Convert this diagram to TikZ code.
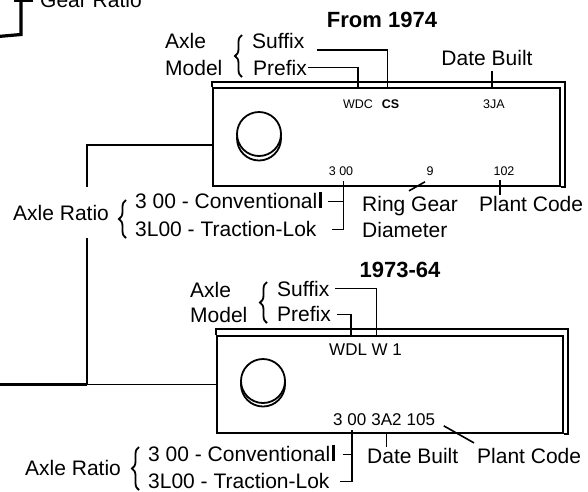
\documentclass[tikz,border=0pt]{standalone}
\usepackage{fontspec}
\setmainfont{Liberation Sans}
\usetikzlibrary{positioning, calc, decorations.pathreplacing}
\tikzset{
  lbl/.style={font=\fontsize{21}{25}\selectfont, inner sep=1pt},
  ttl/.style={font=\fontsize{22}{26}\selectfont\bfseries, inner sep=1pt},
  code/.style={font=\fontsize{12.5}{15}\selectfont, inner sep=0.5pt},
  bigcode/.style={font=\fontsize{17}{20}\selectfont, inner sep=0.5pt},
  plate/.style={rectangle, draw, line width=2pt, inner sep=0pt},
  plateedge/.style={line width=1.6pt},
  hub/.style={line width=1.8pt},
  lead/.style={line width=1.6pt},
  heavy/.style={line width=3.2pt},
  tally/.style={line width=3.5pt},
  curly/.style={decorate, decoration={brace, amplitude=7pt}, line width=1.8pt},
}
\begin{document}
\begin{tikzpicture}[x=1pt, y=-1pt]
  \useasboundingbox (0,0) rectangle (588,491);

  % --- Gear ratio stub (cut off at the top) ---
  \node[lbl, anchor=base west] (gear) at (39,7) {Gear Ratio};
  \draw[heavy] (21,-4) -- (21,34.5) -- (-2,36.5);
  \draw[lead] ($(gear.west)+(-25,1.5)$) -- ($(gear.west)+(-6,1.5)$);

  % --- From 1974 tag ---
  \node[ttl, anchor=base] (t74) at (382,27) {From 1974};
  \node[plate, minimum width=347, minimum height=98] (p74) at (386.5,137) {};
  \draw[plateedge] (p74.north west) -- ++(0,-5) -| ($(p74.south east)+(4,0)$) -- (p74.south east);
  \draw[hub] (259,138.5) circle (22);
  \draw[hub, fill=white] (259,134) circle (22);

  \node[lbl, anchor=base west] (axle74)  at (164,48) {Axle};
  \node[lbl, anchor=base west] (model74) at (164,75) {Model};
  \draw[curly] (242,77) -- (242,35);
  \node[lbl, anchor=base west] (sfx74) at (251,48) {Suffix};
  \node[lbl, anchor=base west] (pfx74) at (252,75) {Prefix};
  \node[lbl, anchor=base] (date74) at (487,65) {Date Built};

  \node[code, anchor=base] (wdc74) at (358,108) {WDC};
  \node[code, anchor=base, font=\fontsize{12.5}{15}\selectfont\bfseries] (cs74) at (390.5,108) {CS};
  \node[code, anchor=base] (ja74) at (494,108) {3JA};
  \node[code, anchor=base] (rc74) at (341,175) {3 00};
  \node[code, anchor=base] (rg74) at (430,175) {9};
  \node[code, anchor=base] (pc74) at (504,175) {102};

  \node[lbl, anchor=base west] (ring74)  at (361,211) {Ring Gear};
  \node[lbl, anchor=base west] (dia74)   at (361,237) {Diameter};
  \node[lbl, anchor=base west] (plant74) at (478,211) {Plant Code};
  \node[lbl, anchor=base west] (ar74)    at (12,220) {Axle Ratio};
  \draw[curly] (126,238) -- (126,200);
  \node[lbl, anchor=base west] (conv74) at (134,208) {3 00 - Conventional};
  \node[lbl, anchor=base west] (trac74) at (134,236) {3L00 - Traction-Lok};

  % leads
  \draw[lead] ($(sfx74.east)+(11,9.6)$) -| ($(cs74.north |- p74.north)+(-3,0)$);
  \draw[lead] (pfx74.east) -| (wdc74.north |- p74.north);
  \draw[lead] ($(date74.south)+(5,5)$) -- ($(date74.south |- p74.north)+(5,0)$);
  \draw[lead] ($(rc74.south)+(2.5,5)$) |- ($(trac74.east)+(14,1)$);
  \draw[tally] ($(conv74.east)+(2,-9)$) -- ($(conv74.east)+(2,7)$);
  \draw[lead] ($(conv74.east)+(9,1)$) -- ($(conv74.east -| rc74.south)+(2.5,1)$);
  \draw[lead] ($(rg74.south)+(-5,6)$) -- ($(rg74.south)+(-21,15)$);
  \draw[lead] ($(pc74.south)+(-4,4)$) -- ($(pc74.south |- plant74.north)+(-4,0)$);

  % --- 1973-64 tag ---
  \node[ttl, anchor=base] (t64) at (400,277) {1973-64};
  \node[plate, minimum width=346, minimum height=97] (p64) at (390,384.5) {};
  \draw[plateedge] (p64.north west) -- ++(0,-6) -| ($(p64.south east)+(4,0)$) -- (p64.south east);
  \draw[hub] (263,384.5) circle (22);
  \draw[hub, fill=white] (263,381) circle (22);

  \node[lbl, anchor=base west] (axle64)  at (189,297) {Axle};
  \node[lbl, anchor=base west] (model64) at (189,322) {Model};
  \draw[curly] (267,323) -- (267,282);
  \node[lbl, anchor=base west] (sfx64) at (276,296) {Suffix};
  \node[lbl, anchor=base west] (pfx64) at (276,321) {Prefix};
  \node[bigcode, anchor=base west] (mc64) at (328.5,355) {WDL W 1};

  \node[bigcode, anchor=base west] (rc64) at (332.5,425) {3 00};
  \node[bigcode, right=3.7pt of rc64.base east, anchor=base west] (dc64) {3A2};
  \node[bigcode, right=3.7pt of dc64.base east, anchor=base west] (pc64) {105};

  \node[lbl, anchor=base west] (date64)  at (366,463) {Date Built};
  \node[lbl, anchor=base west] (plant64) at (476,463) {Plant Code};
  \node[lbl, anchor=base west] (ar64)    at (24,475) {Axle Ratio};
  \draw[curly] (139,490) -- (139,447);
  \node[lbl, anchor=base west] (conv64) at (147,461) {3 00 - Conventional};
  \node[lbl, anchor=base west] (trac64) at (147,488) {3L00 - Traction-Lok};

  % leads
  \draw[lead] ($(sfx64.east)+(4.5,0)$) -| ($(mc64.west |- p64.north)+(48,0)$);
  \draw[lead] ($(pfx64.east)+(5,1)$) -| ($(mc64.west |- p64.north)+(22.5,0)$);
  \draw[lead] ($(rc64.south)+(2.5,4)$) |- ($(trac64.east)+(9,1)$);
  \draw[tally] ($(conv64.east)+(2,-9)$) -- ($(conv64.east)+(2,7)$);
  \draw[lead] ($(conv64.east)+(11,1)$) -- ($(conv64.east -| rc64.south)+(2.5,1)$);
  \draw[lead] ($(dc64.south)+(0,7)$) -- (dc64.south |- date64.north);
  \draw[lead] ($(pc64.south east)+(8,0)$) -- ($(plant64.north west)+(-2,-3.7)$);

  % --- feed line into both tags ---
  \coordinate (split) at (87,384.5);
  \coordinate (feed) at (-2,384.5);
  \draw[heavy] (feed) -- (split);
  \draw[lead] (split) -- (split -| p64.west);
  \draw[lead] ($(p74.west)+(0,8)$) -| ($(split |- ar74.north)+(0,-17)$);
  \draw[lead] (split) -- ($(split |- ar74.south)+(0,17)$);
\end{tikzpicture}
\end{document}
